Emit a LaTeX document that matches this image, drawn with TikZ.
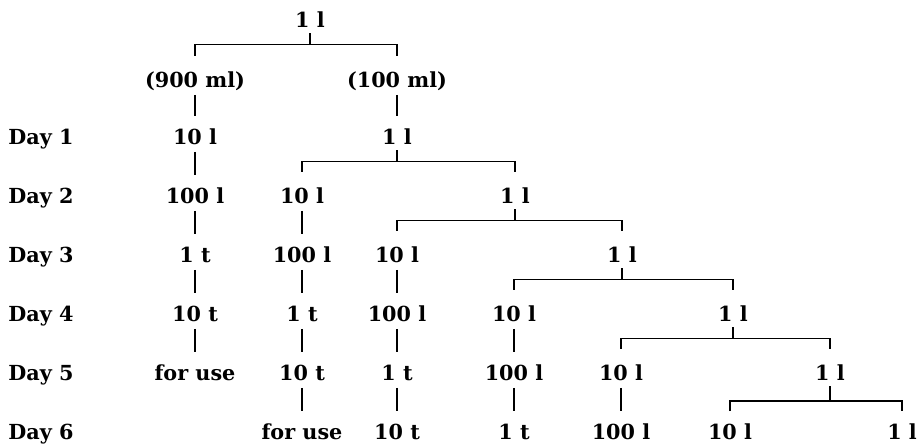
\documentclass[tikz,border=0pt]{standalone}
\usepackage{fontspec}
\setmainfont{DejaVu Serif}
\tikzset{
  qty/.style={
    inner sep=0pt,
    text height=8.6pt,
    text depth=0pt,
    font=\bfseries\fontsize{11.8}{14}\selectfont
  },
  daylabel/.style={qty, anchor=west},
  stem/.style={line width=1.3pt, shorten <=0.14cm, shorten >=0.27cm},
  fork/.style={line width=1pt}
}

\begin{document}
\begin{tikzpicture}[x=1cm,y=1cm]
    \useasboundingbox (0,0) rectangle (18.36,8.88);

    % day labels
    \node[daylabel] (day1) at (0.16,6.14) {Day 1};
    \node[daylabel] (day2) at (0.16,4.96) {Day 2};
    \node[daylabel] (day3) at (0.16,3.78) {Day 3};
    \node[daylabel] (day4) at (0.16,2.60) {Day 4};
    \node[daylabel] (day5) at (0.16,1.42) {Day 5};
    \node[daylabel] (day6) at (0.16,0.24) {Day 6};

    % stock litres
    \node[qty] (s0) at (6.20,8.48) {1 l};
    \node[qty] (ml900) at (3.90,7.28) {(900 ml)};
    \node[qty] (ml100) at (7.94,7.28) {(100 ml)};
    \node[qty] (s1) at (7.94,6.14) {1 l};
    \node[qty] (s2) at (10.30,4.96) {1 l};
    \node[qty] (s3) at (12.44,3.78) {1 l};
    \node[qty] (s4) at (14.66,2.60) {1 l};
    \node[qty] (s5) at (16.60,1.42) {1 l};
    \node[qty] (s6) at (18.04,0.24) {1 l};

    % column 0
    \node[qty] (c0d1) at (3.90,6.14) {10 l};
    \node[qty] (c0d2) at (3.90,4.96) {100 l};
    \node[qty] (c0d3) at (3.90,3.78) {1 t};
    \node[qty] (c0d4) at (3.90,2.60) {10 t};
    \node[qty] (c0d5) at (3.90,1.42) {for use};
    % column 1
    \node[qty] (c1d2) at (6.04,4.96) {10 l};
    \node[qty] (c1d3) at (6.04,3.78) {100 l};
    \node[qty] (c1d4) at (6.04,2.60) {1 t};
    \node[qty] (c1d5) at (6.04,1.42) {10 t};
    \node[qty] (c1d6) at (6.04,0.24) {for use};
    % column 2
    \node[qty] (c2d3) at (7.94,3.78) {10 l};
    \node[qty] (c2d4) at (7.94,2.60) {100 l};
    \node[qty] (c2d5) at (7.94,1.42) {1 t};
    \node[qty] (c2d6) at (7.94,0.24) {10 t};
    % column 3
    \node[qty] (c3d4) at (10.28,2.60) {10 l};
    \node[qty] (c3d5) at (10.28,1.42) {100 l};
    \node[qty] (c3d6) at (10.28,0.24) {1 t};
    % column 4
    \node[qty] (c4d5) at (12.42,1.42) {10 l};
    \node[qty] (c4d6) at (12.42,0.24) {100 l};
    % column 5
    \node[qty] (c5d6) at (14.60,0.24) {10 l};

    % splits
    \draw[fork] ([yshift=-0.11cm]s0.south) -- ([yshift=-0.33cm]s0.south);
    \draw[fork] ([yshift=0.33cm]ml900.north) |- ([yshift=-0.33cm]s0.south) -| ([yshift=0.33cm]ml100.north);
    \draw[fork] ([yshift=-0.11cm]s1.south) -- ([yshift=-0.33cm]s1.south);
    \draw[fork] ([yshift=0.33cm]c1d2.north) |- ([yshift=-0.33cm]s1.south) -| ([yshift=0.33cm]s2.north);
    \draw[fork] ([yshift=-0.11cm]s2.south) -- ([yshift=-0.33cm]s2.south);
    \draw[fork] ([yshift=0.33cm]c2d3.north) |- ([yshift=-0.33cm]s2.south) -| ([yshift=0.33cm]s3.north);
    \draw[fork] ([yshift=-0.11cm]s3.south) -- ([yshift=-0.33cm]s3.south);
    \draw[fork] ([yshift=0.33cm]c3d4.north) |- ([yshift=-0.33cm]s3.south) -| ([yshift=0.33cm]s4.north);
    \draw[fork] ([yshift=-0.11cm]s4.south) -- ([yshift=-0.33cm]s4.south);
    \draw[fork] ([yshift=0.33cm]c4d5.north) |- ([yshift=-0.33cm]s4.south) -| ([yshift=0.33cm]s5.north);
    \draw[fork] ([yshift=-0.11cm]s5.south) -- ([yshift=-0.40cm]s5.south);
    \draw[fork] ([yshift=0.26cm]c5d6.north) |- ([yshift=-0.40cm]s5.south) -| ([yshift=0.26cm]s6.north);

    % stems
    \draw[stem] (ml100) -- (s1);
    \draw[stem] (ml900) -- (c0d1);
    \draw[stem] (c0d1) -- (c0d2);
    \draw[stem] (c0d2) -- (c0d3);
    \draw[stem] (c0d3) -- (c0d4);
    \draw[stem] (c0d4) -- (c0d5);
    \draw[stem] (c1d2) -- (c1d3);
    \draw[stem] (c1d3) -- (c1d4);
    \draw[stem] (c1d4) -- (c1d5);
    \draw[stem] (c1d5) -- (c1d6);
    \draw[stem] (c2d3) -- (c2d4);
    \draw[stem] (c2d4) -- (c2d5);
    \draw[stem] (c2d5) -- (c2d6);
    \draw[stem] (c3d4) -- (c3d5);
    \draw[stem] (c3d5) -- (c3d6);
    \draw[stem] (c4d5) -- (c4d6);
\end{tikzpicture}
\end{document}
